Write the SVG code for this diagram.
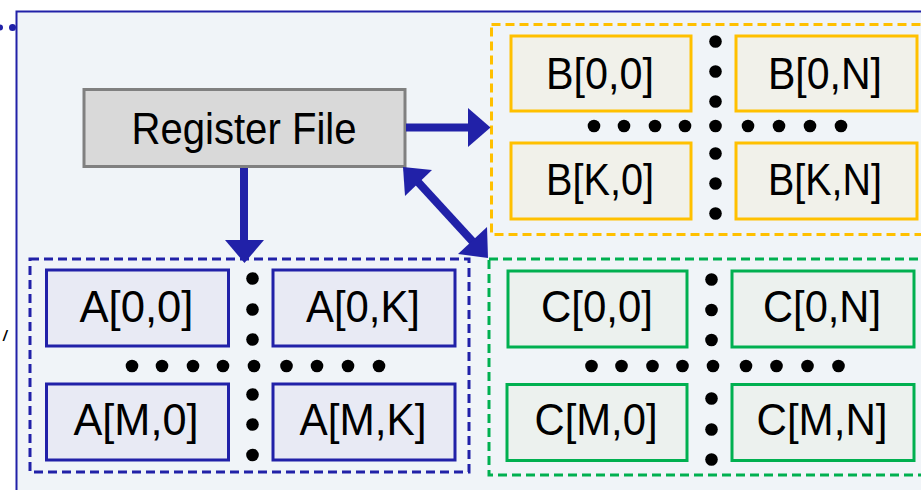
<svg xmlns="http://www.w3.org/2000/svg" width="921" height="490" viewBox="0 0 921 490">
<style>
text{font-family:"Liberation Sans",Arial,sans-serif;fill:#000;text-anchor:middle}
.lbl{font-size:44px}
.a{fill:#e8eaf4;stroke:#2121a8;stroke-width:3}
.b{fill:#f1f1ea;stroke:#ffc000;stroke-width:3}
.c{fill:#ecf1ee;stroke:#00b050;stroke-width:3}
.grp{fill:none;stroke-width:3;stroke-dasharray:9 5}
.dot{fill:#000}
.conn{stroke:#2121a8;stroke-width:8;fill:none}
.head{fill:#2121a8}
</style>
<rect width="921" height="490" fill="#fff"/>
<rect id="frame" x="16.5" y="11.5" width="920" height="490" fill="#f0f4f8" stroke="#2121a8" stroke-width="2"/>
<circle cx="12.5" cy="27.5" r="3.5" fill="#2121a8"/>
<circle cx="0" cy="27.5" r="3" fill="#2121a8"/>
<text x="5" y="341" style="font-size:14px;font-style:italic;font-weight:bold">/</text>

<g id="regfile">
<rect x="84" y="89.5" width="321" height="77" fill="#d9d9d9" stroke="#808080" stroke-width="3"/>
<text class="lbl" x="244" y="144" textLength="225" lengthAdjust="spacingAndGlyphs">Register File</text>
</g>

<g id="groupB">
<rect class="grp" x="491.5" y="24.5" width="440" height="210" stroke="#ffc000"/>
<g id="B00"><rect class="b" x="511" y="36" width="180" height="75"/><text class="lbl" x="600" y="88.5" textLength="108" lengthAdjust="spacingAndGlyphs">B[0,0]</text></g>
<g id="B0N"><rect class="b" x="736" y="36" width="181" height="75"/><text class="lbl" x="825" y="88.5" textLength="114" lengthAdjust="spacingAndGlyphs">B[0,N]</text></g>
<g id="BK0"><rect class="b" x="511" y="143" width="180" height="76"/><text class="lbl" x="600" y="195" textLength="108" lengthAdjust="spacingAndGlyphs">B[K,0]</text></g>
<g id="BKN"><rect class="b" x="736" y="143" width="181" height="76"/><text class="lbl" x="825" y="195" textLength="114" lengthAdjust="spacingAndGlyphs">B[K,N]</text></g>
<g class="dot">
<circle cx="715.5" cy="41.5" r="6.3"/><circle cx="715.5" cy="71.5" r="6.3"/><circle cx="715.5" cy="101.5" r="6.3"/>
<circle cx="715.5" cy="153.5" r="6.3"/><circle cx="715.5" cy="183.5" r="6.3"/><circle cx="715.5" cy="213.5" r="6.3"/>
<circle cx="594" cy="126" r="6.3"/><circle cx="624" cy="126" r="6.3"/><circle cx="655" cy="126" r="6.3"/><circle cx="685" cy="126" r="6.3"/><circle cx="715.5" cy="126" r="6.3"/><circle cx="748" cy="126" r="6.3"/><circle cx="779" cy="126" r="6.3"/><circle cx="810" cy="126" r="6.3"/><circle cx="841" cy="126" r="6.3"/>
</g>
</g>

<g id="groupA">
<rect class="grp" x="30" y="259" width="439" height="213" stroke="#2121a8"/>
<g id="A00"><rect class="a" x="46.5" y="270" width="182" height="76"/><text class="lbl" x="136.5" y="321.5" textLength="114" lengthAdjust="spacingAndGlyphs">A[0,0]</text></g>
<g id="A0K"><rect class="a" x="273" y="270" width="182" height="76"/><text class="lbl" x="363" y="321.5" textLength="114" lengthAdjust="spacingAndGlyphs">A[0,K]</text></g>
<g id="AM0"><rect class="a" x="46.5" y="384" width="182" height="76"/><text class="lbl" x="136" y="435" textLength="125" lengthAdjust="spacingAndGlyphs">A[M,0]</text></g>
<g id="AMK"><rect class="a" x="273" y="384" width="182" height="76"/><text class="lbl" x="363" y="435" textLength="127" lengthAdjust="spacingAndGlyphs">A[M,K]</text></g>
<g class="dot">
<circle cx="252.5" cy="278.5" r="6.3"/><circle cx="252.5" cy="309.5" r="6.3"/><circle cx="252.5" cy="339.5" r="6.3"/>
<circle cx="252.5" cy="394.5" r="6.3"/><circle cx="252.5" cy="424.5" r="6.3"/><circle cx="252.5" cy="455" r="6.3"/>
<circle cx="132" cy="366" r="6.3"/><circle cx="162" cy="366" r="6.3"/><circle cx="193" cy="366" r="6.3"/><circle cx="223" cy="366" r="6.3"/><circle cx="254" cy="366" r="6.3"/><circle cx="286.5" cy="366" r="6.3"/><circle cx="317" cy="366" r="6.3"/><circle cx="348" cy="366" r="6.3"/><circle cx="379" cy="366" r="6.3"/>
</g>
</g>

<g id="groupC">
<rect class="grp" x="489" y="259" width="440" height="216" stroke="#00b050"/>
<g id="C00"><rect class="c" x="508" y="271" width="179" height="76"/><text class="lbl" x="597" y="321.5" textLength="112" lengthAdjust="spacingAndGlyphs">C[0,0]</text></g>
<g id="C0N"><rect class="c" x="732" y="271" width="182" height="76"/><text class="lbl" x="822" y="321.5" textLength="118" lengthAdjust="spacingAndGlyphs">C[0,N]</text></g>
<g id="CM0"><rect class="c" x="507" y="384.5" width="180" height="76"/><text class="lbl" x="596" y="435" textLength="123" lengthAdjust="spacingAndGlyphs">C[M,0]</text></g>
<g id="CMN"><rect class="c" x="732" y="384.5" width="182" height="76"/><text class="lbl" x="822" y="435" textLength="131" lengthAdjust="spacingAndGlyphs">C[M,N]</text></g>
<g class="dot">
<circle cx="711.5" cy="279.5" r="6.3"/><circle cx="711.5" cy="310" r="6.3"/><circle cx="711.5" cy="340" r="6.3"/>
<circle cx="711.5" cy="398.5" r="6.3"/><circle cx="711.5" cy="429.5" r="6.3"/><circle cx="711.5" cy="459.5" r="6.3"/>
<circle cx="591.5" cy="366" r="6.3"/><circle cx="621.5" cy="366" r="6.3"/><circle cx="652.5" cy="366" r="6.3"/><circle cx="682.5" cy="366" r="6.3"/><circle cx="713" cy="366" r="6.3"/><circle cx="746" cy="366" r="6.3"/><circle cx="776.5" cy="366" r="6.3"/><circle cx="807.5" cy="366" r="6.3"/><circle cx="838.5" cy="366" r="6.3"/>
</g>
</g>

<g id="connectors">
<line class="conn" x1="406" y1="127.5" x2="470" y2="127.5"/>
<polygon class="head" points="468,108 490.5,127.5 468,147"/>
<line class="conn" x1="244" y1="168" x2="244" y2="242"/>
<polygon class="head" points="225,240 264,240 244.5,263"/>
<line class="conn" x1="418" y1="182" x2="474" y2="243"/>
<polygon class="head" points="403,167 432,170 405,196"/>
<polygon class="head" points="488,258 487,227 458,254"/>
</g>
</svg>
